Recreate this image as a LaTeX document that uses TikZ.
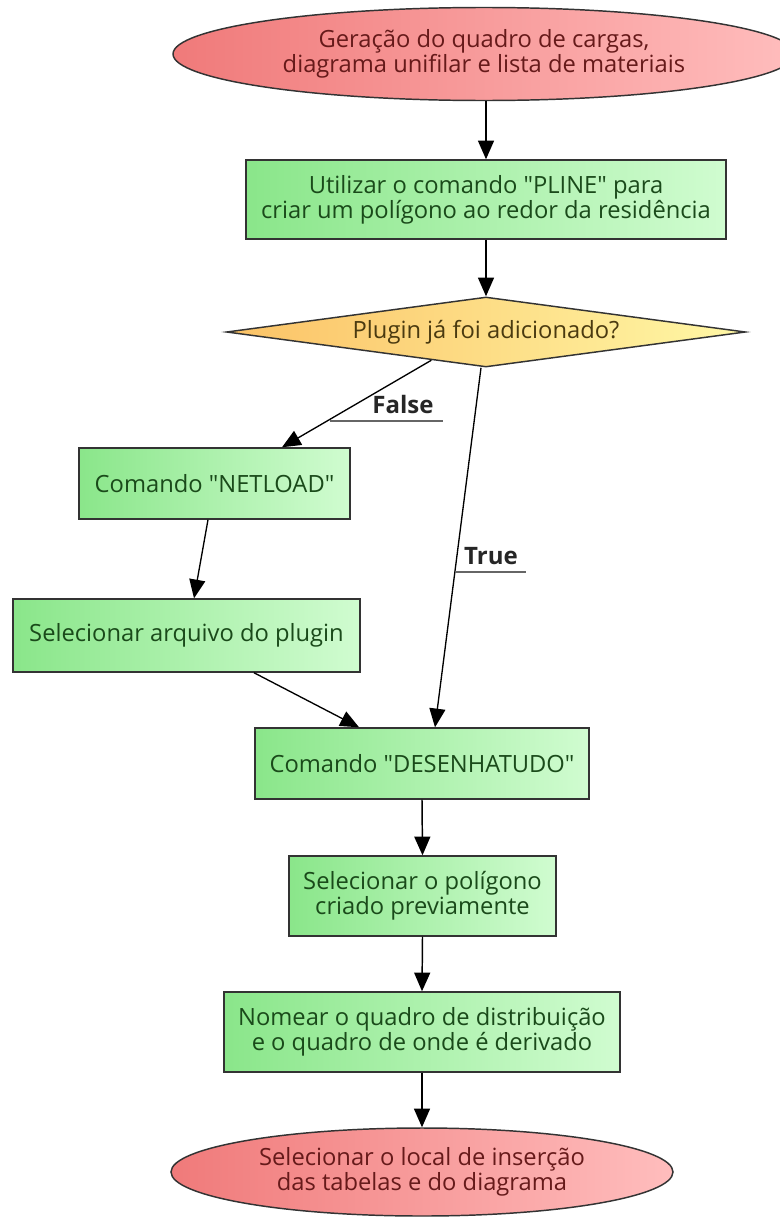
\documentclass[tikz,border=0pt]{standalone}
\usepackage{fontspec}
\setmainfont{Open Sans}
\usetikzlibrary{shapes.geometric,arrows.meta,calc}
\definecolor{bordc}{HTML}{333333}
\definecolor{redL}{HTML}{F07A7A}
\definecolor{redR}{HTML}{FFBDBD}
\definecolor{redT}{HTML}{661A1A}
\definecolor{grnL}{HTML}{8AE68A}
\definecolor{grnR}{HTML}{D0FCD0}
\definecolor{grnT}{HTML}{1A4A1A}
\definecolor{yelL}{HTML}{FBC266}
\definecolor{yelR}{HTML}{FFF8A6}
\definecolor{yelT}{HTML}{4A3A10}
\definecolor{labc}{HTML}{666666}
\newcommand{\qq}{\textquotedbl{}}
\tikzset{
  base/.style={draw=bordc, line width=1.1pt, align=center, inner sep=0pt,
    font=\fontsize{17.8}{19}\selectfont},
  termnode/.style={base, ellipse, left color=redL, right color=redR, text=redT},
  procnode/.style={base, rectangle, left color=grnL, right color=grnR, text=grnT},
  decnode/.style={base, diamond, aspect=7.4, left color=yelL, right color=yelR, text=yelT},
  flow/.style={draw=black, line width=1.1pt, -{Triangle[length=14pt,width=12pt]}},
  thinflow/.style={draw=black, line width=1pt, -{Triangle[length=14pt,width=12pt]}},
  edgelab/.style={font=\bfseries\fontsize{18}{20}\selectfont, text=black!85, inner sep=0pt},
  labline/.style={draw=labc, line width=1.4pt}
}
\begin{document}
\begin{tikzpicture}[x=0.75pt,y=-0.75pt]
\useasboundingbox (0,0) rectangle (779,1217);

\node[termnode, minimum width=466.5pt, minimum height=69.75pt] (start) at (484,54)
  {Geração do quadro de cargas,\\diagrama unifilar e lista de materiais};
\node[procnode, minimum width=360pt, minimum height=59.25pt] (pline) at (486,199.5)
  {Utilizar o comando \qq PLINE\qq\ para\\criar um polígono ao redor da residência};
\node[decnode, minimum width=389.25pt, minimum height=52.5pt] (dec) at (486,332)
  {Plugin já foi adicionado?};
\node[procnode, minimum width=203.25pt, minimum height=53.25pt] (net) at (214.5,483.5)
  {Comando \qq NETLOAD\qq};
\node[procnode, minimum width=260.25pt, minimum height=54.75pt] (arq) at (186.5,635.5)
  {Selecionar arquivo do plugin};
\node[procnode, minimum width=250.5pt, minimum height=53.25pt] (des) at (422,763.5)
  {Comando \qq DESENHATUDO\qq};
\node[procnode, minimum width=200.25pt, minimum height=60pt] (pol) at (422.5,896)
  {Selecionar o polígono\\criado previamente};
\node[procnode, minimum width=297pt, minimum height=60pt] (nom) at (422,1032)
  {Nomear o quadro de distribuição\\e o quadro de onde é derivado};
\node[termnode, minimum width=376.5pt, minimum height=66pt] (fim) at (422,1172)
  {Selecionar o local de inserção\\das tabelas e do diagrama};

% edges
\draw[flow] (start.south -| pline.north) -- (pline.north);
\draw[flow] (pline.south) -- (dec.north);
\draw[thinflow] ($(dec.west)!0.79!(dec.south)$) -- ($(net.north)+(67.5,0)$);
\draw[thinflow] ($(dec.south)+(-5,0)$) -- ($(des.north)+(13,0)$);
\draw[thinflow] ($(net.south)+(-6.5,0)$) -- ($(arq.north)+(7.5,0)$);
\draw[thinflow] ($(arq.south)+(67.5,0)$) -- ($(des.north)+(-63,0)$);
\draw[flow] (des.south) -- (pol.north);
\draw[flow] (pol.south) -- (nom.north);
\draw[flow] (nom.south) -- (fim.north);

% edge labels
\node[edgelab] (lfalse) at (403,404) {False};
\coordinate (f1) at (330,421);
\coordinate (f2) at (443,421);
\draw[labline] (f1) -- (f2);
\node[edgelab] (ltrue) at (491,556) {True};
\coordinate (t1) at (455,572);
\coordinate (t2) at (526,572);
\draw[labline] (t1) -- (t2);
\end{tikzpicture}
\end{document}
